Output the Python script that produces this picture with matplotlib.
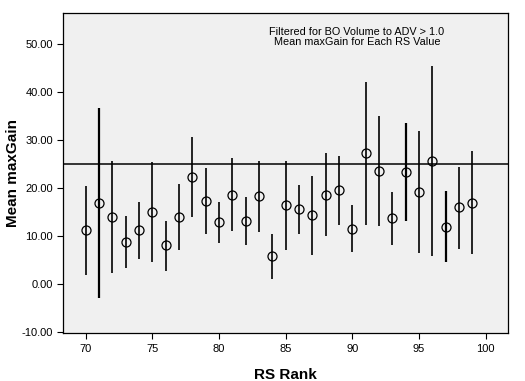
import matplotlib
matplotlib.use("Agg")
import matplotlib.pyplot as plt
import numpy as np

plt.rcParams['font.family'] = ['Liberation Sans', 'DejaVu Sans']

rs_rank = [70, 71, 72, 73, 74, 75, 76, 77, 78, 79,
           80, 81, 82, 83, 84, 85, 86, 87, 88, 89,
           90, 91, 92, 93, 94, 95, 96, 97, 98, 99]
mean_gain = [11.2, 16.9, 13.9, 8.7, 11.1, 15.0, 8.0, 13.9, 22.3, 17.3,
             12.8, 18.6, 13.0, 18.2, 5.7, 16.4, 15.5, 14.3, 18.6, 19.5,
             11.4, 27.2, 23.5, 13.6, 23.3, 19.1, 25.7, 11.9, 15.9, 16.9]
upper = [20.4, 36.7, 25.5, 14.1, 17.0, 25.3, 13.1, 20.7, 30.7, 24.2,
         17.0, 26.2, 18.0, 25.7, 10.3, 25.7, 20.5, 22.5, 27.3, 26.6,
         16.4, 42.1, 35.0, 19.2, 33.6, 31.8, 45.4, 19.3, 24.3, 27.6]
lower = [1.9, -3.0, 2.2, 3.3, 5.1, 4.6, 2.7, 7.1, 13.9, 10.4,
         8.5, 11.0, 8.1, 10.8, 1.0, 7.1, 10.3, 6.0, 9.9, 12.3,
         6.6, 12.3, 12.1, 8.1, 13.1, 6.4, 5.8, 4.5, 7.3, 6.2]
ref_value = 24.9
x_ticks = [70, 75, 80, 85, 90, 95, 100]
y_ticks = [-10, 0, 10, 20, 30, 40, 50]
title_lines = ["Filtered for BO Volume to ADV > 1.0",
               "Mean maxGain for Each RS Value"]

# bar stroke widths (style)
thick = {71, 94, 97}
bar_lw = [1.6 if r in thick else 1.2 for r in rs_rank]

fig = plt.figure(figsize=(5.25, 3.81), dpi=100)
ax = fig.add_axes([0.1206, 0.1247, 0.968 - 0.1206, 0.966 - 0.1247])
ax.set_facecolor('#F0F0F0')

ax.axhline(ref_value, color='black', lw=1.1, zorder=1)
for r, lo, hi, lw in zip(rs_rank, lower, upper, bar_lw):
    ax.vlines(r, lo, hi, color='black', lw=lw, zorder=2)
ax.plot(rs_rank, mean_gain, linestyle='none', marker='o', markersize=6.5,
        markerfacecolor='none', markeredgecolor='black', markeredgewidth=0.9, zorder=3)

ax.set_xlim(68.32, 101.7)
ax.set_ylim(-10.4, 56.5)
ax.set_xticks(x_ticks)
ax.set_yticks(y_ticks)
ax.set_yticklabels([f"{v:.2f}" for v in y_ticks])
ax.tick_params(axis='both', labelsize=8, length=4, width=0.8, color='black', direction='out')

for s in ax.spines.values():
    s.set_color('black')
    s.set_linewidth(0.9)

ax.set_xlabel('RS Rank', fontsize=11, fontweight='bold', labelpad=10)
ax.set_ylabel('Mean maxGain', fontsize=11, fontweight='bold', labelpad=1)

ax.text(0.66, 0.955, "\n".join(title_lines), transform=ax.transAxes,
        ha='center', va='top', fontsize=7.8, linespacing=1.0)

fig.savefig('out.png', dpi=100, facecolor='white')
